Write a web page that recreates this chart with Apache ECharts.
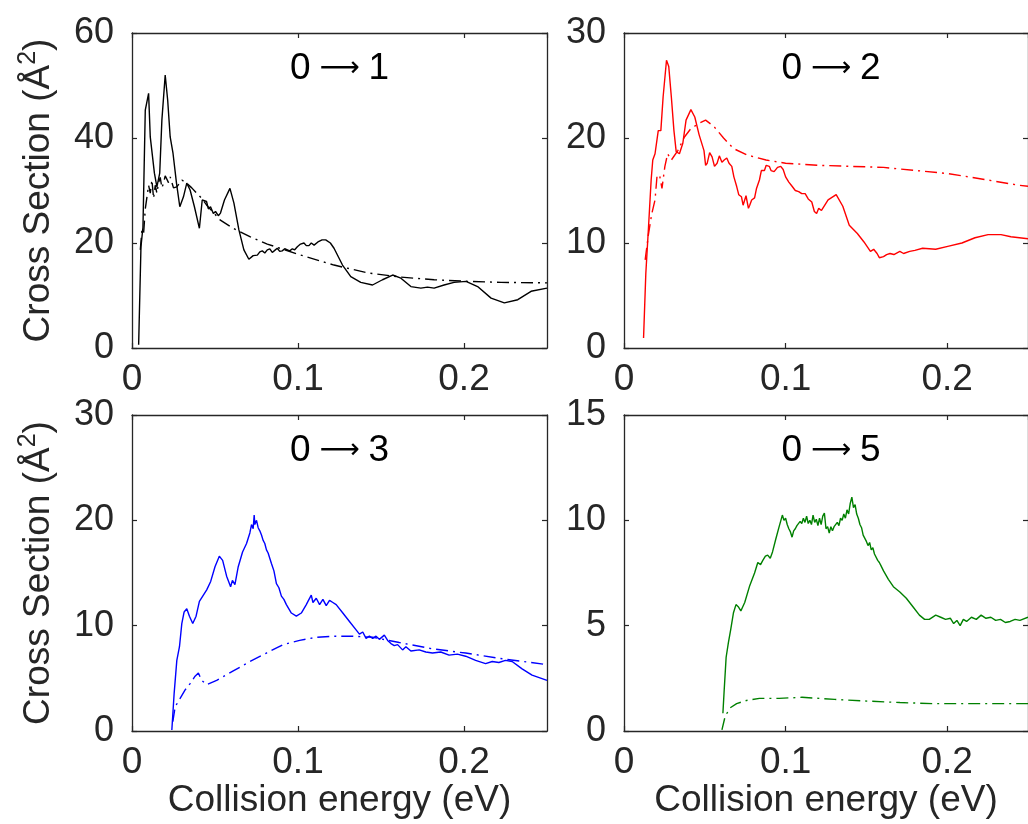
<!DOCTYPE html>
<html>
<head>
<meta charset="utf-8">
<script src="https://cdn.jsdelivr.net/npm/echarts@6/dist/echarts.min.js"></script>
<style>
  html, body { margin: 0; padding: 0; background: #fff; }
  #chart { width: 1028px; height: 824px; }
</style>
</head>
<body>
<div id="chart"></div>
<script>
// panel titles
const titles = ['1', '2', '3', '5'];

// 0 -> 1 (black)
const solid01 = [[0.004,0.6],[0.0054,19.3],[0.0066,23],[0.008,45.3],[0.010,48.5],[0.011,40.2],[0.012,40.2],[0.0135,33.3],[0.015,30.7],[0.0167,33.3],[0.018,43.4],[0.020,52],[0.0215,47.2],[0.023,40.2],[0.0247,37.1],[0.0268,31.4],[0.0288,26.9],[0.031,28.8],[0.033,31.4],[0.035,30.1],[0.0376,26.9],[0.0406,22.8],[0.0423,28.2],[0.0449,27.9],[0.046,26.5],[0.0473,26.9],[0.049,25.6],[0.0503,26.0],[0.052,25.2],[0.0533,25.7],[0.0557,28.2],[0.059,30.4],[0.0614,27.6],[0.0644,22.5],[0.0674,18.7],[0.0704,16.9],[0.073,17.6],[0.0755,17.7],[0.077,18.3],[0.0785,18.5],[0.08,18.1],[0.0815,18.7],[0.083,18.9],[0.0845,18.2],[0.086,18.6],[0.0875,19.0],[0.089,18.4],[0.0905,18.5],[0.092,18.9],[0.0936,18.7],[0.095,18.5],[0.0966,18.9],[0.098,18.7],[0.0996,19.3],[0.1015,19.8],[0.1036,20.0],[0.105,19.5],[0.1066,19.5],[0.108,20.0],[0.1097,19.6],[0.112,20.2],[0.1145,20.6],[0.1167,20.6],[0.1195,20.0],[0.1217,19.0],[0.1268,15.8],[0.1318,13.6],[0.1378,12.5],[0.1449,12.0],[0.1509,13.0],[0.157,13.9],[0.162,13.3],[0.168,11.7],[0.174,11.4],[0.178,11.6],[0.182,11.4],[0.188,12.0],[0.194,12.5],[0.2012,12.7],[0.2082,11.7],[0.2163,9.5],[0.2243,8.6],[0.2324,9.2],[0.2404,10.8],[0.25,11.4]];
const model01 = [[0.005,18.7],[0.006,22.5],[0.007,21.9],[0.008,26.5],[0.009,26.3],[0.010,31],[0.011,29.5],[0.012,32],[0.013,28.5],[0.014,31],[0.015,29.5],[0.016,31.5],[0.017,32.5],[0.018,30.5],[0.019,31.4],[0.020,32.8],[0.021,33],[0.022,31.5],[0.023,32.6],[0.025,30.5],[0.027,30.7],[0.030,32],[0.033,31.4],[0.036,30.5],[0.039,29.5],[0.042,28.5],[0.045,27.2],[0.049,25.8],[0.053,24.4],[0.061,22.8],[0.071,21.2],[0.0815,19.8],[0.1016,17.7],[0.1217,15.8],[0.1419,14.3],[0.162,13.5],[0.182,13.0],[0.2022,12.7],[0.2223,12.5],[0.25,12.4]];

// 0 -> 2 (red)
const solid02 = [[0.0121,0.95],[0.0135,7.1],[0.0152,11.6],[0.0168,16.0],[0.0178,17.9],[0.0192,18.5],[0.0212,20.7],[0.0228,20.7],[0.0242,23.9],[0.0263,27.4],[0.0277,26.8],[0.0293,23.9],[0.0309,20.7],[0.0323,18.7],[0.0343,18.5],[0.0364,19.5],[0.0384,21.7],[0.0414,22.7],[0.0438,22.0],[0.0465,20.3],[0.0495,18.8],[0.0505,17.4],[0.0515,17.6],[0.053,18.6],[0.0545,18.2],[0.056,17.3],[0.0576,17.6],[0.059,18.3],[0.0606,17.7],[0.062,17.9],[0.0636,18.1],[0.065,17.6],[0.0667,17.3],[0.068,16.3],[0.0697,15.4],[0.071,14.6],[0.0727,14.4],[0.0737,13.6],[0.0747,13.5],[0.0755,14.5],[0.0762,14.4],[0.077,13.3],[0.0778,13.6],[0.079,14.1],[0.0808,14.3],[0.082,15.2],[0.0838,16.0],[0.085,16.9],[0.0869,16.9],[0.088,17.4],[0.0899,17.3],[0.091,16.9],[0.0929,16.8],[0.095,17.2],[0.097,17.3],[0.0985,17.0],[0.1,16.3],[0.102,15.8],[0.104,15.4],[0.106,15.0],[0.1081,14.9],[0.11,14.7],[0.1121,14.7],[0.114,14.2],[0.1162,13.9],[0.1178,13.0],[0.1192,12.8],[0.1205,13.3],[0.1222,13.1],[0.1263,14.1],[0.1313,14.6],[0.1354,13.5],[0.1394,11.7],[0.1444,10.9],[0.1485,10.1],[0.1525,9.2],[0.1545,9.4],[0.1566,9.0],[0.158,8.6],[0.1606,8.7],[0.1625,8.9],[0.1646,9.0],[0.167,8.9],[0.1707,9.2],[0.173,9.0],[0.1768,9.2],[0.18,9.3],[0.1848,9.5],[0.1929,9.4],[0.201,9.7],[0.2091,10.0],[0.2172,10.5],[0.2253,10.8],[0.2333,10.8],[0.2394,10.6],[0.25,10.4]];
const model02 = [[0.0131,8.4],[0.0152,10.9],[0.0172,12.8],[0.0192,14.1],[0.0205,16.5],[0.0222,16.3],[0.0235,15.2],[0.0253,17.3],[0.027,18.5],[0.0293,17.9],[0.0333,18.8],[0.0374,20.1],[0.0414,20.9],[0.0465,21.4],[0.0505,21.7],[0.0556,21.1],[0.0616,20.0],[0.0677,19.0],[0.0758,18.4],[0.0879,17.9],[0.1,17.6],[0.1202,17.4],[0.1404,17.3],[0.1606,17.2],[0.1808,16.9],[0.201,16.6],[0.2212,16.1],[0.2442,15.5],[0.25,15.4]];

// 0 -> 3 (blue)
const solid03 = [[0.024,0.1],[0.0254,3.6],[0.027,6.7],[0.0286,8.0],[0.030,10.2],[0.0314,11.3],[0.033,11.6],[0.0346,10.9],[0.0366,10.2],[0.0386,10.9],[0.0406,12.3],[0.043,12.9],[0.045,13.4],[0.0474,14.2],[0.05,15.6],[0.0526,16.6],[0.0546,16.2],[0.057,14.7],[0.0594,13.7],[0.0605,14.3],[0.062,13.9],[0.064,15.6],[0.0666,17.0],[0.069,17.8],[0.070,18.3],[0.071,18.8],[0.072,19.6],[0.073,19.2],[0.0736,20.5],[0.074,19.6],[0.075,20.0],[0.076,19.3],[0.077,19.0],[0.078,18.6],[0.079,18.1],[0.08,17.8],[0.081,17.2],[0.082,16.9],[0.084,15.9],[0.0855,15.2],[0.087,14.0],[0.0885,13.6],[0.09,12.8],[0.0915,12.5],[0.093,12.0],[0.096,11.2],[0.099,10.9],[0.102,11.2],[0.105,12.0],[0.106,12.3],[0.108,12.9],[0.109,12.2],[0.111,12.6],[0.113,12.0],[0.115,12.5],[0.117,11.9],[0.119,12.4],[0.121,12.2],[0.123,12.0],[0.127,11.2],[0.131,10.4],[0.135,9.6],[0.137,9.2],[0.139,9.4],[0.141,8.8],[0.143,9.0],[0.145,8.8],[0.147,9.0],[0.149,8.7],[0.152,9.1],[0.154,8.6],[0.156,8.3],[0.158,8.1],[0.16,8.2],[0.163,7.7],[0.165,8.0],[0.168,7.6],[0.173,7.7],[0.177,7.5],[0.181,7.4],[0.186,7.5],[0.191,7.2],[0.196,7.3],[0.201,7.1],[0.207,6.7],[0.213,6.4],[0.217,6.6],[0.221,6.5],[0.225,6.7],[0.229,6.6],[0.235,5.9],[0.241,5.3],[0.25,4.8]];
const model03 = [[0.0246,0.9],[0.026,2.3],[0.029,3.1],[0.032,3.9],[0.035,4.5],[0.038,5.2],[0.040,5.5],[0.042,4.8],[0.045,4.4],[0.051,4.8],[0.061,5.7],[0.071,6.6],[0.081,7.4],[0.091,8.2],[0.101,8.6],[0.111,8.9],[0.121,9.0],[0.133,9.0],[0.145,8.9],[0.161,8.4],[0.181,7.8],[0.201,7.4],[0.221,6.9],[0.25,6.3]];

// 0 -> 5 (green)
const solid05 = [[0.0612,0.84],[0.062,1.95],[0.0632,3.5],[0.0646,4.2],[0.066,4.8],[0.0677,5.6],[0.0693,6.0],[0.0707,5.9],[0.0723,5.7],[0.0747,6.1],[0.0778,6.9],[0.0808,7.5],[0.0828,8.0],[0.0845,7.9],[0.0859,8.1],[0.0875,8.3],[0.0889,8.35],[0.0905,8.2],[0.0919,8.5],[0.0939,9.1],[0.096,9.7],[0.098,10.25],[0.099,10.0],[0.1,10.1],[0.101,9.8],[0.102,9.6],[0.103,9.45],[0.104,9.2],[0.105,9.5],[0.106,9.6],[0.107,9.75],[0.108,9.7],[0.109,9.95],[0.110,9.85],[0.111,10.1],[0.112,9.9],[0.113,10.2],[0.114,9.85],[0.115,10.0],[0.116,9.8],[0.117,10.25],[0.118,9.9],[0.119,10.05],[0.12,9.75],[0.121,10.1],[0.122,9.8],[0.123,10.2],[0.124,10.35],[0.125,9.6],[0.126,9.7],[0.127,9.4],[0.128,9.7],[0.129,9.5],[0.13,9.7],[0.131,9.65],[0.132,9.9],[0.133,9.75],[0.134,10.1],[0.135,10.0],[0.136,10.3],[0.137,10.1],[0.138,10.5],[0.139,10.3],[0.140,10.8],[0.141,11.1],[0.142,10.6],[0.143,10.75],[0.144,10.3],[0.145,10.1],[0.146,9.8],[0.147,9.65],[0.148,9.3],[0.149,9.35],[0.15,9.0],[0.151,8.8],[0.152,8.95],[0.153,8.6],[0.154,8.7],[0.155,8.4],[0.156,8.35],[0.157,8.1],[0.158,8.0],[0.159,7.85],[0.1606,7.6],[0.1636,7.2],[0.1667,6.85],[0.1707,6.6],[0.1747,6.3],[0.1788,5.9],[0.1828,5.5],[0.186,5.3],[0.1889,5.3],[0.1929,5.5],[0.196,5.4],[0.199,5.3],[0.202,5.35],[0.204,5.1],[0.206,5.25],[0.208,5.0],[0.210,5.3],[0.212,5.2],[0.215,5.4],[0.218,5.3],[0.221,5.5],[0.224,5.35],[0.227,5.4],[0.23,5.25],[0.233,5.3],[0.236,5.15],[0.239,5.2],[0.242,5.3],[0.245,5.25],[0.25,5.4]];
const model05 = [[0.0606,0.05],[0.0626,0.7],[0.0657,1.1],[0.0697,1.3],[0.0758,1.45],[0.0838,1.55],[0.096,1.55],[0.1101,1.6],[0.1303,1.5],[0.1505,1.42],[0.1707,1.35],[0.1909,1.3],[0.2111,1.3],[0.2442,1.3],[0.25,1.3]];

const yMax = [60, 30, 30, 15];
const yStep = [20, 10, 10, 5];
const colors = ['#000000', '#ff0000', '#0000ff', '#008000'];
const solids = [solid01, solid02, solid03, solid05];
const models = [model01, model02, model03, model05];

const axisColor = '#262626';
const font = 'Liberation Sans, Arial, Helvetica, sans-serif';
// plot boxes [left, top, width, height]
const boxes = [[132, 33, 415, 315], [624, 33, 415, 315], [132, 415, 415, 316], [624, 415, 415, 316]];

const chart = echarts.init(document.getElementById('chart'));

const grid = [], xAxis = [], yAxis = [], series = [], graphic = [];

boxes.forEach((b, i) => {
    grid.push({left: b[0], top: b[1], width: b[2], height: b[3], containLabel: false});
    const base = {
        min: 0, splitLine: {show: false},
        axisLine: {show: true, onZero: false, lineStyle: {color: axisColor, width: 1.3}},
        axisTick: {show: true, inside: true, length: 5, lineStyle: {color: axisColor, width: 1.2}}
    };
    xAxis.push(Object.assign({}, base, {
        type: 'value', gridIndex: i, position: 'bottom', max: 0.25, interval: 0.1,
        axisLabel: {show: true, margin: 13, fontSize: 37, color: axisColor, fontFamily: font, showMaxLabel: false},
        name: i >= 2 ? 'Collision energy (eV)' : '', nameLocation: 'middle', nameGap: 45,
        nameTextStyle: {fontSize: 37, color: axisColor, fontFamily: font}
    }));
    xAxis.push(Object.assign({}, base, {
        type: 'value', gridIndex: i, position: 'top', max: 0.25, interval: 0.1,
        axisLabel: {show: false}
    }));
    yAxis.push(Object.assign({}, base, {
        type: 'value', gridIndex: i, position: 'left', max: yMax[i], interval: yStep[i],
        axisLabel: {show: true, margin: 18, fontSize: 36, color: axisColor, fontFamily: font},
        name: i % 2 === 0 ? 'Cross Section (Å{sup|2})' : '', nameLocation: 'middle', nameGap: 71, nameRotate: 90,
        nameTextStyle: {fontSize: 37, color: axisColor, fontFamily: font,
            rich: {sup: {fontSize: 25, color: axisColor, fontFamily: font, padding: [0, 0, 20, 0]}}}
    }));
    yAxis.push(Object.assign({}, base, {
        type: 'value', gridIndex: i, position: 'right', max: yMax[i], interval: yStep[i],
        axisLabel: {show: false}
    }));

    series.push({
        type: 'line', xAxisIndex: 2 * i, yAxisIndex: 2 * i, data: solids[i],
        showSymbol: false, symbol: 'none', clip: true,
        lineStyle: {color: colors[i], width: 1.4}
    });
    series.push({
        type: 'line', xAxisIndex: 2 * i, yAxisIndex: 2 * i, data: models[i],
        showSymbol: false, symbol: 'none', clip: true,
        lineStyle: {color: colors[i], width: 1.4, type: [12, 5, 2, 5]}
    });

    const cx = i % 2 === 0 ? b[0] + b[2] / 2 : b[0] + 207;
    graphic.push({
        type: 'text', x: cx, y: b[1] + 36,
        style: {
            text: '{n|0}{a|\u00A0\u27F6\u00A0}{n|' + titles[i] + '}',
            align: 'center', verticalAlign: 'middle',
            rich: {
                n: {fontSize: 37, fontFamily: font, fill: '#000'},
                a: {fontSize: 28, fontFamily: 'DejaVu Sans', fill: '#000'}
            }
        }
    });
});

chart.setOption({
    animation: false,
    backgroundColor: '#ffffff',
    grid: grid,
    xAxis: xAxis,
    yAxis: yAxis,
    series: series,
    graphic: graphic
});
</script>
</body>
</html>
